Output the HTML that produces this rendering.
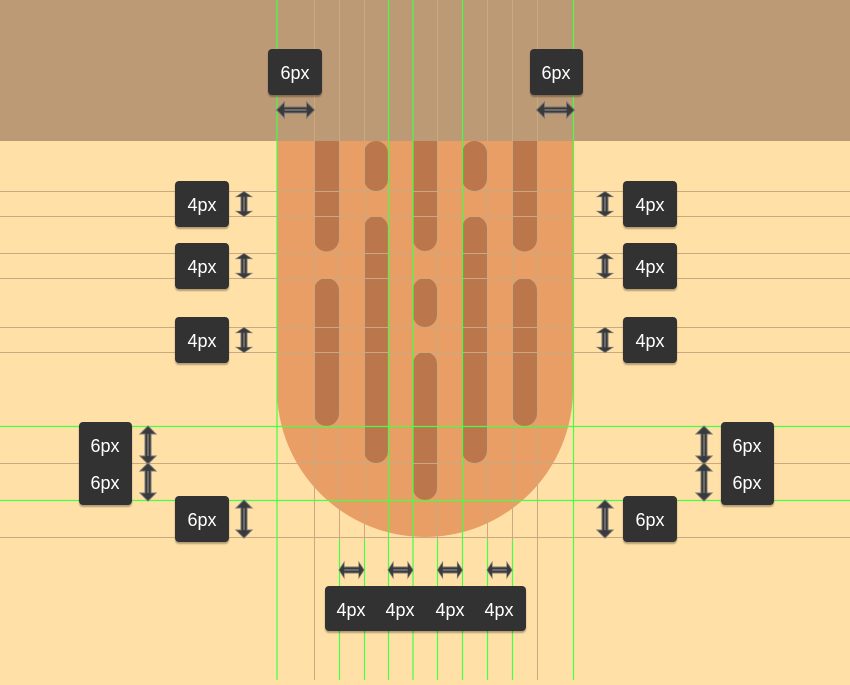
<!DOCTYPE html>
<html><head><style>
body{margin:0;width:850px;height:680px;overflow:hidden;background:#ffe0a6;font-family:"Liberation Sans",sans-serif}
</style></head><body>
<svg width="850" height="680" viewBox="0 0 850 680" xmlns="http://www.w3.org/2000/svg">
<defs>
<g id="ah"><path d="M-19,0 L-11,-8 L-11,-3 L11,-3 L11,-8 L19,0 L11,8 L11,3 L-11,3 L-11,8 Z" fill="#3a3a3a" stroke="#777" stroke-width="1"/><line x1="-11" y1="0" x2="11" y2="0" stroke="#999" stroke-width="1"/></g>
<filter id="sh"><feDropShadow dx="0" dy="2" stdDeviation="0.8" flood-color="#000" flood-opacity="0.3"/></filter>
</defs>
<rect x="0" y="0" width="850" height="141" fill="#bd9a76"/>
<path d="M277,141 H573 V389 A148,148 0 0 1 277,389 Z" fill="#e99e66"/>
<g fill="#bb774b">
<path d="M314,141 H339 V239 A12.5,12.5 0 0 1 314,239 Z"/>
<rect x="314" y="278" width="25" height="148" rx="12.5"/>
<rect x="364" y="141" width="24" height="50" rx="12"/>
<rect x="364" y="216" width="24" height="247" rx="12"/>
<path d="M413,141 H437 V239 A12,12 0 0 1 413,239 Z"/>
<rect x="413" y="278" width="24" height="49" rx="12"/>
<rect x="413" y="352" width="24" height="148" rx="12"/>
<rect x="462" y="141" width="25" height="50" rx="12.5"/>
<rect x="462" y="216" width="25" height="247" rx="12.5"/>
<path d="M512,141 H537 V239 A12.5,12.5 0 0 1 512,239 Z"/>
<rect x="512" y="278" width="25" height="148" rx="12.5"/>
</g>
<g stroke="#c9aa80" stroke-width="1">
<line x1="0" y1="191.5" x2="850" y2="191.5"/><line x1="0" y1="216.5" x2="850" y2="216.5"/>
<line x1="0" y1="253.5" x2="850" y2="253.5"/><line x1="0" y1="278.5" x2="850" y2="278.5"/>
<line x1="0" y1="327.5" x2="850" y2="327.5"/><line x1="0" y1="352.5" x2="850" y2="352.5"/>
<line x1="0" y1="463.5" x2="850" y2="463.5"/><line x1="0" y1="537.5" x2="850" y2="537.5"/>
<line x1="314.5" y1="0" x2="314.5" y2="680"/><line x1="537.5" y1="0" x2="537.5" y2="680"/>
<line x1="339.5" y1="0" x2="339.5" y2="680"/><line x1="364.5" y1="0" x2="364.5" y2="680"/>
<line x1="437.5" y1="0" x2="437.5" y2="680"/><line x1="487.5" y1="0" x2="487.5" y2="680"/>
<line x1="512.5" y1="0" x2="512.5" y2="680"/>
</g>
<g stroke="#44ff44" stroke-width="1.2">
<line x1="339.5" y1="540" x2="339.5" y2="680"/><line x1="364.5" y1="540" x2="364.5" y2="680"/>
<line x1="437.5" y1="540" x2="437.5" y2="680"/><line x1="487.5" y1="540" x2="487.5" y2="680"/>
<line x1="512.5" y1="540" x2="512.5" y2="680"/>
<line x1="277" y1="0" x2="277" y2="680"/><line x1="388.5" y1="0" x2="388.5" y2="680"/>
<line x1="413" y1="0" x2="413" y2="680"/><line x1="462.5" y1="0" x2="462.5" y2="680"/>
<line x1="573.5" y1="0" x2="573.5" y2="680"/>
<line x1="0" y1="426.5" x2="850" y2="426.5"/><line x1="0" y1="500.5" x2="850" y2="500.5"/>
</g>
<g filter="url(#sh)" fill="#333">
<rect x="268" y="49" width="54" height="46" rx="4"/><rect x="530" y="49" width="53" height="46" rx="4"/>
<rect x="175" y="181" width="54" height="46" rx="4"/><rect x="175" y="243" width="54" height="46" rx="4"/><rect x="175" y="317" width="54" height="46" rx="4"/>
<rect x="623" y="181" width="54" height="46" rx="4"/><rect x="623" y="243" width="54" height="46" rx="4"/><rect x="623" y="317" width="54" height="46" rx="4"/>
<rect x="79" y="422" width="53" height="46" rx="4"/><rect x="79" y="459" width="53" height="46" rx="4"/>
<rect x="721" y="422" width="53" height="46" rx="4"/><rect x="721" y="459" width="53" height="46" rx="4"/>
<rect x="175" y="496" width="54" height="46" rx="4"/><rect x="623" y="496" width="54" height="46" rx="4"/>
<rect x="325" y="586" width="201" height="45" rx="4"/>
</g>
<g fill="#fff" font-size="18" text-anchor="middle" font-family="Liberation Sans, sans-serif">
<text x="295" y="79">6px</text><text x="556" y="79">6px</text>
<text x="202" y="211">4px</text><text x="202" y="273">4px</text><text x="202" y="347">4px</text>
<text x="650" y="211">4px</text><text x="650" y="273">4px</text><text x="650" y="347">4px</text>
<text x="105" y="452">6px</text><text x="105" y="489">6px</text>
<text x="747" y="452">6px</text><text x="747" y="489">6px</text>
<text x="202" y="526">6px</text><text x="650" y="526">6px</text>
<text x="351" y="616">4px</text><text x="400" y="616">4px</text><text x="450" y="616">4px</text><text x="499" y="616">4px</text>
</g>
<use href="#ah" transform="translate(295.5,110)"/>
<use href="#ah" transform="translate(555.5,110)"/>
<use href="#ah" transform="translate(351.5,570) scale(0.66,1)"/>
<use href="#ah" transform="translate(400.5,570) scale(0.66,1)"/>
<use href="#ah" transform="translate(450,570) scale(0.66,1)"/>
<use href="#ah" transform="translate(499.5,570) scale(0.66,1)"/>
<use href="#ah" transform="translate(244,204) rotate(90) scale(0.66,1)"/>
<use href="#ah" transform="translate(244,266) rotate(90) scale(0.66,1)"/>
<use href="#ah" transform="translate(244,340) rotate(90) scale(0.66,1)"/>
<use href="#ah" transform="translate(605,204) rotate(90) scale(0.66,1)"/>
<use href="#ah" transform="translate(605,266) rotate(90) scale(0.66,1)"/>
<use href="#ah" transform="translate(605,340) rotate(90) scale(0.66,1)"/>
<use href="#ah" transform="translate(148,445) rotate(90)"/>
<use href="#ah" transform="translate(148,482) rotate(90)"/>
<use href="#ah" transform="translate(704,445) rotate(90)"/>
<use href="#ah" transform="translate(704,482) rotate(90)"/>
<use href="#ah" transform="translate(244,519) rotate(90)"/>
<use href="#ah" transform="translate(605,519) rotate(90)"/>
</svg>
</body></html>
